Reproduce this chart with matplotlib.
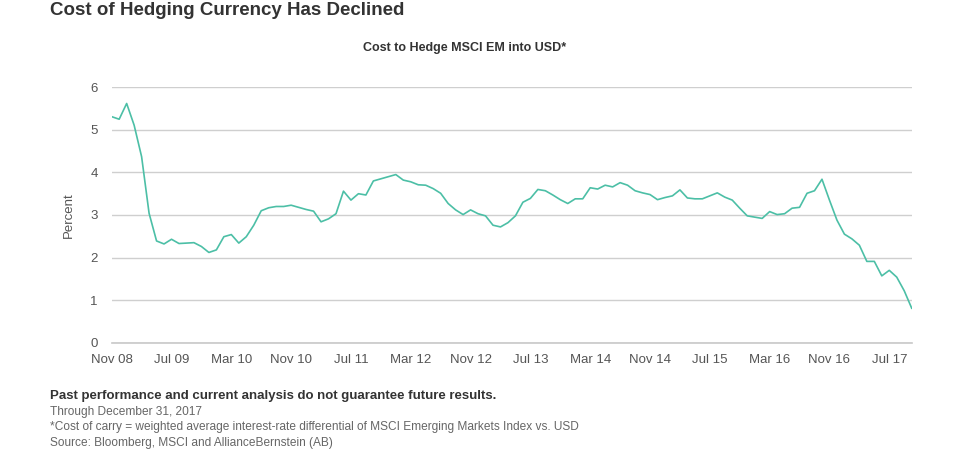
import matplotlib
matplotlib.use("Agg")
import matplotlib.pyplot as plt

# monthly cost to hedge MSCI EM into USD, in percent
values = [
    5.31, 5.25, 5.62, 5.11, 4.37, 3.04, 2.39, 2.32, 2.43, 2.33,
    2.34, 2.35, 2.26, 2.12, 2.18, 2.49, 2.54, 2.34, 2.49, 2.76,
    3.10, 3.17, 3.20, 3.20, 3.23, 3.18, 3.13, 3.09, 2.84, 2.91,
    3.03, 3.56, 3.35, 3.50, 3.47, 3.80, 3.85, 3.90, 3.95, 3.82,
    3.78, 3.71, 3.70, 3.62, 3.51, 3.27, 3.12, 3.01, 3.12, 3.03,
    2.98, 2.76, 2.72, 2.82, 2.98, 3.30, 3.39, 3.60, 3.57, 3.47,
    3.36, 3.27, 3.38, 3.38, 3.64, 3.61, 3.70, 3.66, 3.76, 3.70,
    3.57, 3.52, 3.48, 3.36, 3.41, 3.45, 3.59, 3.40, 3.38, 3.38,
    3.45, 3.52, 3.42, 3.35, 3.16, 2.98, 2.95, 2.92, 3.08, 3.01,
    3.03, 3.16, 3.18, 3.51, 3.57, 3.84, 3.35, 2.88, 2.55, 2.44,
    2.29, 1.91, 1.91, 1.57, 1.70, 1.54, 1.22, 0.81,
]
tick_labels = ["Nov 08", "Jul 09", "Mar 10", "Nov 10", "Jul 11", "Mar 12", "Nov 12",
               "Jul 13", "Mar 14", "Nov 14", "Jul 15", "Mar 16", "Nov 16", "Jul 17"]
y_ticks = [0, 1, 2, 3, 4, 5, 6]

title = "Cost of Hedging Currency Has Declined"
subtitle = "Cost to Hedge MSCI EM into USD*"
notes = [
    "Through December 31, 2017",
    "*Cost of carry = weighted average interest-rate differential of MSCI Emerging Markets Index vs. USD",
    "Source: Bloomberg, MSCI and AllianceBernstein (AB)",
]
disclaimer = "Past performance and current analysis do not guarantee future results."

W, H = 960, 450
plain = ["Liberation Sans", "DejaVu Sans"]

fig = plt.figure(figsize=(W / 100, H / 100), dpi=100)
fig.patch.set_facecolor("white")

ax = fig.add_axes([111.7 / W, 1 - 342.7 / H, 800 / W, 255.4 / H])
x = list(range(len(values)))
ax.plot(x, values, color="#4cbfa6", linewidth=1.2, zorder=3)

ax.set_xlim(0, len(values) - 1)
ax.set_ylim(0, 6)
ax.set_yticks(y_ticks)
ax.set_xticks(x[::8])
ax.set_xticklabels(tick_labels)
ax.grid(axis="y", color="#cfcfcf", linewidth=1)
ax.axhline(0, color="#c8c8c8", linewidth=1.2, clip_on=False, zorder=1)
ax.set_axisbelow(True)
for s in ax.spines.values():
    s.set_visible(False)
ax.tick_params(length=0, labelsize=9.5, labelcolor="#555555")
ax.tick_params(axis="y", pad=10)
ax.tick_params(axis="x", pad=8)
for lab in ax.get_xticklabels() + ax.get_yticklabels():
    lab.set_family(plain)
ax.set_ylabel("Percent", fontsize=9.5, color="#555555", family=plain, labelpad=11)

fig.text(49.5 / W, 1 - 2 / H, title, ha="left", va="top", fontsize=13.5,
         fontweight="bold", color="#333333", family=plain, fontstretch="condensed")
fig.text(465 / W, 1 - 42 / H, subtitle, ha="center", va="top", fontsize=9,
         fontweight="bold", color="#333333", family=plain, fontstretch="condensed")

fig.text(49.5 / W, 1 - 396 / H, disclaimer, ha="left", va="center", fontsize=9.5,
         fontweight="bold", color="#333333", family=plain)
for i, line in enumerate(notes):
    fig.text(49.5 / W, 1 - (411.5 + i * 15.8) / H, line, ha="left", va="center",
             fontsize=8.6, color="#666666", family=plain)

fig.savefig("out.png", dpi=100)
